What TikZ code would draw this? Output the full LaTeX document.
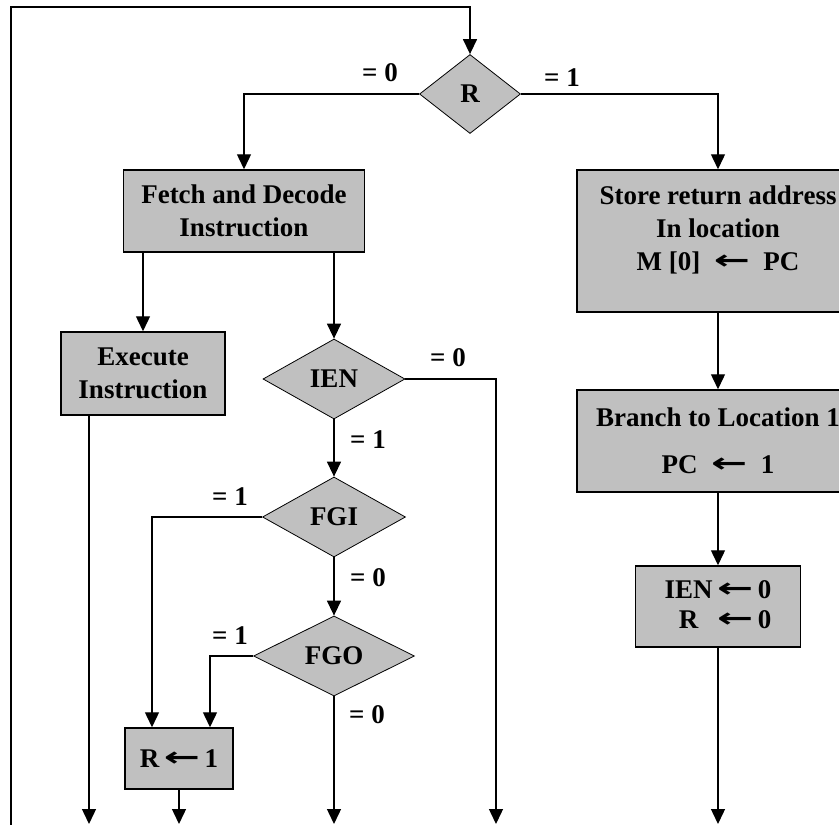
\documentclass[tikz,border=0pt]{standalone}
\usepackage{fontspec}
\setmainfont{Liberation Serif}
\newfontfamily\arrfont{DejaVu Sans}
\usetikzlibrary{shapes.geometric,arrows.meta}
\definecolor{boxgray}{HTML}{C0C0C0}
\newcommand{\larr}{\raisebox{1pt}{\scalebox{1.6}[1]{\arrfont\bfseries ←}}}
\begin{document}
\begin{tikzpicture}[x=1pt,y=-1pt,
  every node/.style={font=\fontsize{27}{33}\selectfont\bfseries},
  box/.style={draw, line width=1.5pt, fill=boxgray, align=center, inner sep=0pt},
  dec/.style={diamond, draw, line width=0.8pt, fill=boxgray, inner sep=0pt},
  arr/.style={line width=1.4pt, -{Triangle[length=15pt,width=14pt]}},
  lbl/.style={inner sep=0pt}]
\useasboundingbox (0,0) rectangle (839,825);
\clip (0,0) rectangle (839,825);

% decisions
\node[dec, minimum width=101pt, minimum height=79pt] (R) at (470,94) {R};
\node[dec, minimum width=142pt, minimum height=80pt] (ien) at (334,379) {IEN};
\node[dec, minimum width=143pt, minimum height=80pt] (fgi) at (334,517) {FGI};
\node[dec, minimum width=161pt, minimum height=80pt] (fgo) at (334,656) {FGO};

% boxes
\node[box, minimum width=241pt, minimum height=82pt] (fetch) at (244,211) {Fetch and Decode\\Instruction};
\node[box, minimum width=164pt, minimum height=83pt] (exec) at (143,373.5) {Execute\\Instruction};
\node[box, minimum width=108pt, minimum height=61pt] (r1) at (179,758.5) {R\,\larr\,1};
\node[box, minimum width=282pt, minimum height=142pt] (store) at (718,241) {Store return address\\In location\\M [0]\enspace\larr\enspace PC\\[-8pt]\mbox{}};
\node[box, minimum width=282pt, minimum height=102pt] (branch) at (718,441) {Branch to Location 1\\[14pt]PC\enspace\larr\enspace 1};
\node[box, minimum width=165pt, minimum height=81pt] (ien0) at (718,606.5) {\begin{tabular}{@{}c@{\,}l@{}}IEN&\larr\,0\\[-3pt]R&\larr\,0\end{tabular}};

% labels
\node[lbl] (l1) at (380,73) {= 0};
\node[lbl] (l2) at (562,78) {= 1};
\node[lbl] (l3) at (448,358) {= 0};
\node[lbl] (l4) at (368,440) {= 1};
\node[lbl] (l5) at (230,497) {= 1};
\node[lbl] (l6) at (368,578) {= 0};
\node[lbl] (l7) at (230,636) {= 1};
\node[lbl] (l8) at (367,715) {= 0};

% free ends
\coordinate (bl) at (11,826);
\coordinate (tl) at (11,7);
\coordinate (b1) at (89,824);
\coordinate (b2) at (179,824);
\coordinate (b3) at (334,824);
\coordinate (b4) at (496,824);
\coordinate (b5) at (718,824);

% connectors
\draw[arr] (bl) -- (tl) -| (R.north);
\draw[arr] (R.west) -| (fetch.north);
\draw[arr] (R.east) -| (store.north);
\draw[arr] (exec.north |- fetch.south) -- (exec.north);
\draw[arr] (ien.north |- fetch.south) -- (ien.north);
\draw[arr] (exec.south -| b1) -- (b1);
\draw[arr] (ien.east) -| (b4);
\draw[arr] (ien.south) -- (fgi.north);
\draw[arr] (fgi.south) -- (fgo.north);
\draw[arr] (fgi.west) -| ([xshift=-27pt]r1.north);
\draw[arr] (fgo.west) -| ([xshift=31pt]r1.north);
\draw[arr] (fgo.south) -- (b3);
\draw[arr] (r1.south) -- (b2);
\draw[arr] (store.south) -- (branch.north);
\draw[arr] (branch.south) -- (ien0.north);
\draw[arr] (ien0.south) -- (b5);
\end{tikzpicture}
\end{document}
